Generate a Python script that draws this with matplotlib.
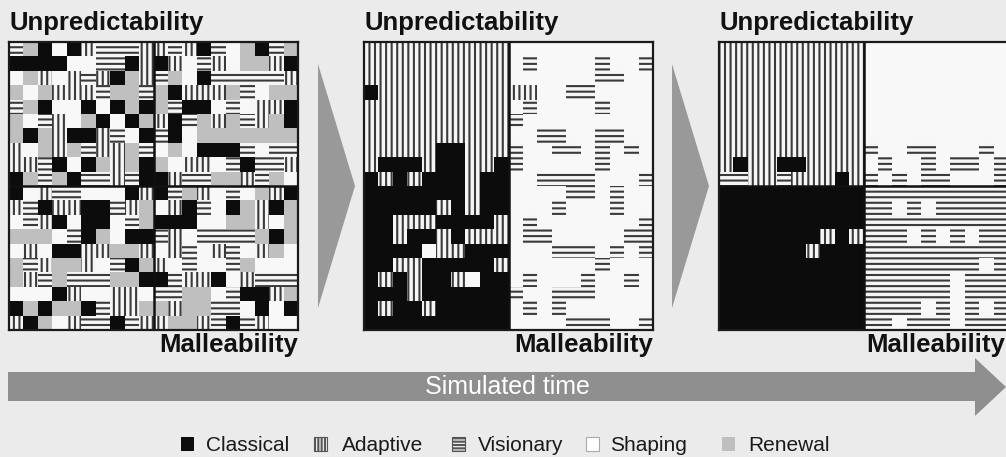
import matplotlib
matplotlib.use("Agg")
import matplotlib.pyplot as plt
from matplotlib.patches import Rectangle, Polygon

# ---------------- data ----------------
categories = ["Classical", "Adaptive", "Visionary", "Shaping", "Renewal"]
codes = ["C", "A", "V", "S", "R"]

panel1_rows = [
    "VRCSCAVVVA" + "AVACVSRCVR",
    "CCCCSSVVCA" + "CASVASRRAC",
    "SRASAVACRA" + "VRSCVVVVVA",
    "RSRAAAVRRV" + "RCAAARVSRR",
    "VRCSSCSCRC" + "RVCCSVSAAC",
    "RSVASRCSCR" + "ACVRARVARC",
    "RCRACCAVSC" + "VCSRRRRRRR",
    "ASRARVAARV" + "SRSCCCVSVV",
    "AAVCSCRARC" + "RSAASVCVVA",
    "CRVRCVVAVC" + "CAVVRRAVRS",
    "CSAVVSSSCA" + "CVRASVSRAC",
    "AVCAACCVAR" + "SACVSCRACR",
    "SVACSCCSVR" + "CCCSSRRASR",
    "RRRSVCRSCC" + "VASVVVVRCR",
    "SASCCAARRA" + "SAVSAVSARS",
    "RVARRASVCR" + "ASVSSVRSSS",
    "RAVRVVVRRC" + "CVAACSAVVV",
    "SSSCASSAAS" + "VVRRSVCCAR",
    "CRCRRCVAAR" + "RARRVVSCSC",
    "ACRSAVVCVA" + "ARRAVCVASS",
]

panel2_rows = [
    "AAAAAAAAAA" + "SSSSSSSSSS",
    "AAAAAAAAAA" + "SVSSSSVSSV",
    "AAAAAAAAAA" + "SSSSSSVVSS",
    "CAAAAAAAAA" + "AASSVVSSSS",
    "AAAAAAAAAA" + "SVSSSSVSSS",
    "AAAAAAAAAA" + "VSSSSSSSSS",
    "AAAAAAAAAA" + "SSVVSSVVSS",
    "AAAAACCAAA" + "VSSVVSVSVS",
    "ACCCACCAAC" + "VSSSSSVSSS",
    "CACACCCACC" + "SSVVVVSSSV",
    "CCCCCCCACC" + "SSSSVVSVSS",
    "CCCCCACACC" + "SSSVSSSVSS",
    "CCAAACCCCA" + "SVSSSSSSSV",
    "CCACCACAAA" + "SVVSSSSSVV",
    "CCCCSAACCC" + "SSSVVVSVSV",
    "CCAACCCCCA" + "SSSSSSVSSS",
    "CACACCASCC" + "SVSSSVSSVS",
    "CCCACCCCCC" + "VSSVVVSSSS",
    "CACCACCCCC" + "SVSVSSSSSS",
    "CCCCCCCCCC" + "SSSSVVVSSV",
]

panel3_rows = [
    "AAAAAAAAAA" + "SSSSSSSSSS",
    "AAAAAAAAAA" + "SSSSSSSSSS",
    "AAAAAAAAAA" + "SSSSSSSSSS",
    "AAAAAAAAAA" + "SSSSSSSSSS",
    "AAAAAAAAAA" + "SSSSSSSSSS",
    "AAAAAAAAAA" + "SSSSSSSSSS",
    "AAAAAAAAAA" + "SSSSSSSSSS",
    "AAAAAAAAAA" + "VSSVVSSSVS",
    "ACAACCAAAA" + "SVSSVSVVSV",
    "VVAAVAAACA" + "VSVSVVSSSV",
    "CCCCCCCCCC" + "VVVVVVVVVV",
    "CCCCCCCCCC" + "VVSVSVVVVV",
    "CCCCCCCCCC" + "VVVVVVVVVV",
    "CCCCCCCACA" + "VVVSVSVSVV",
    "CCCCCCACCC" + "VVVVVVVVVV",
    "CCCCCCCCCC" + "VVVVVVVVSV",
    "CCCCCCCCCC" + "VVVVVVSVVV",
    "CCCCCCCCCC" + "VVVVVVSVVV",
    "CCCCCCCCCC" + "VVVVSVSVSV",
    "CCCCCCCCCC" + "VVSVVVSVVV",
]

panels = [panel1_rows, panel2_rows, panel3_rows]
y_label = "Unpredictability"
x_label = "Malleability"
time_label = "Simulated time"

# ---------------- style ----------------
BG = "#ebebeb"
HATCH_COL = "#3a3a3a"
style = {
    "C": dict(facecolor="#0c0c0c", hatch=None),
    "A": dict(facecolor="#f6f6f6", hatch="|||"),
    "V": dict(facecolor="#f6f6f6", hatch="---"),
    "S": dict(facecolor="#f8f8f8", hatch=None),
    "R": dict(facecolor="#bfbfbf", hatch=None),
}
plt.rcParams["hatch.linewidth"] = 1.5
plt.rcParams["font.family"] = ["Liberation Sans", "DejaVu Sans"]

W, H = 1006, 457
fig = plt.figure(figsize=(W / 100, H / 100), dpi=100, facecolor=BG)

# overlay in pixel coordinates
ov = fig.add_axes([0, 0, 1, 1], zorder=0)
ov.set_xlim(0, W)
ov.set_ylim(H, 0)
ov.axis("off")
ov.set_facecolor(BG)

panel_left = [9, 364, 719]
panel_top, panel_w, panel_h = 42, 289, 288
n = 20
hdiv = [True, False, True]

for p, rows in enumerate(panels):
    x0 = panel_left[p]
    ax = fig.add_axes([x0 / W, 1 - (panel_top + panel_h) / H, panel_w / W, panel_h / H], zorder=2)
    ax.set_xlim(0, n)
    ax.set_ylim(n, 0)
    ax.set_xticks([])
    ax.set_yticks([])
    for r, row in enumerate(rows):
        for c, ch in enumerate(row):
            st = style[ch]
            ax.add_patch(Rectangle((c, r), 1, 1, facecolor=st["facecolor"], hatch=st["hatch"],
                                   edgecolor=HATCH_COL, linewidth=0))
    for s in ax.spines.values():
        s.set_linewidth(1.6)
        s.set_color("#1a1a1a")
    ax.axvline(n / 2, color="#111111", lw=1.8)
    if hdiv[p]:
        ax.axhline(n / 2, color="#111111", lw=1.8)
    # labels
    ov.text(x0 + 1, 30, y_label, fontsize=18.5, fontweight="bold", color="#111111",
            ha="left", va="baseline")
    ov.text(min(x0 + panel_w, 1005), 352, x_label, fontsize=18.5, fontweight="bold",
            color="#111111", ha="right", va="baseline")

# chevrons between panels
for xl in [318, 672]:
    ov.add_patch(Polygon([(xl, 64), (xl + 37, 186), (xl, 308)], closed=True,
                         facecolor="#999999", edgecolor="none"))

# big time arrow
ov.add_patch(Polygon([(8, 372), (975, 372), (975, 358), (1006, 387), (975, 416),
                      (975, 401), (8, 401)], closed=True, facecolor="#8f8f8f", edgecolor="none"))
ov.text(507, 387, time_label, fontsize=18, color="white", ha="center", va="center")

# legend
icon_x = [181, 314, 452, 586, 722]
text_x = [206, 342, 478, 610, 748]
for code, name, ix, tx in zip(codes, categories, icon_x, text_x):
    st = style[code]
    if code == "S":
        ov.add_patch(Rectangle((ix, 437), 13, 14, facecolor="white", edgecolor="#aaaaaa", lw=0.8))
    elif code in ("A", "V"):
        ov.add_patch(Rectangle((ix, 437), 13, 14, facecolor="#eeeeee", edgecolor="#555555",
                               lw=0.8, hatch=st["hatch"] + "||" if code == "A" else st["hatch"] + "--"))
    else:
        ov.add_patch(Rectangle((ix, 437), 13, 14, facecolor=st["facecolor"], edgecolor="none"))
    ov.text(tx, 451, name, fontsize=15, color="#1a1a1a", ha="left", va="baseline")

fig.savefig("out.png", dpi=100, facecolor=BG)
